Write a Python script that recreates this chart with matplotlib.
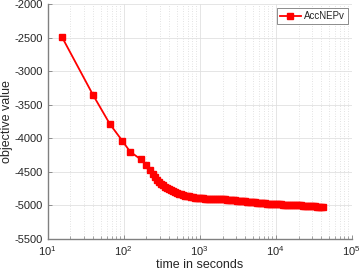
import numpy as np
import matplotlib
matplotlib.use('Agg')
import matplotlib.pyplot as plt
from matplotlib.ticker import LogLocator, NullFormatter

plt.rcParams['font.family'] = ['Liberation Sans', 'DejaVu Sans']

# time (s) and objective value
time_s = [15.5, 39.7, 66, 96, 122, 168, 197, 223, 244, 259, 275, 292, 311,
          330, 351, 373, 396, 421, 447, 475, 504, 536, 569, 605, 643, 683,
          725, 771, 819, 870, 924, 982, 1043, 1108, 1178, 1251, 1329, 1412,
          1500, 1594, 1694, 1799, 1911, 2031, 2158, 2292, 2436, 2588, 2749,
          2921, 3103, 3297, 3502, 3721, 3954, 4201, 4463, 4742, 5037, 5352,
          5686, 6041, 6418, 6819, 7244, 7698, 8176, 8689, 9228, 9806, 10416,
          11069, 11757, 12495, 13270, 14104, 14978, 15920, 16906, 17970,
          19082, 20285, 21538, 22898, 24310, 25847, 27440, 29176, 30970,
          32934, 34957, 37176, 39456, 41900]
objective = [-2491, -3355, -3787, -4036, -4200, -4313, -4398, -4472, -4538,
             -4580, -4618, -4650, -4678, -4702, -4723, -4742, -4760, -4776,
             -4790, -4802, -4812, -4823, -4834, -4846, -4857, -4862, -4867,
             -4873, -4879, -4884, -4889, -4892, -4895, -4897, -4898, -4899,
             -4900, -4900, -4901, -4902, -4903, -4904, -4906, -4909, -4912,
             -4915, -4918, -4921, -4924, -4927, -4930, -4933, -4936, -4939,
             -4942, -4945, -4948, -4951, -4954, -4957, -4959, -4962, -4965,
             -4968, -4970, -4972, -4974, -4977, -4979, -4981, -4983, -4984,
             -4985, -4987, -4988, -4990, -4991, -4993, -4994, -4996, -4997,
             -4999, -5000, -5002, -5004, -5007, -5009, -5011, -5013, -5016,
             -5018, -5020, -5022, -5023]

fig = plt.figure(figsize=(3.6, 2.74), dpi=100)
ax = fig.add_axes([0.132, 0.128, 0.845, 0.857])

ax.plot(time_s, objective, color='red', lw=1.3, marker='s', ms=3.7,
        mec='red', mfc='red', label='AccNEPv')

ax.set_xscale('log')
ax.set_xlim(10, 1e5)
ax.set_ylim(-5500, -2000)
ax.set_yticks(np.arange(-5500, -1999, 500))
ax.set_yticklabels([str(v) for v in range(-5500, -1999, 500)])
ax.xaxis.set_minor_locator(LogLocator(base=10, subs=np.arange(2, 10)))
ax.xaxis.set_minor_formatter(NullFormatter())

dark = '0.15'
for s in ['top', 'right']:
    ax.spines[s].set_visible(False)
for s in ['left', 'bottom']:
    ax.spines[s].set_color('0.5')
    ax.spines[s].set_linewidth(1.0)

ax.tick_params(which='major', direction='in', length=3, width=0.6,
               colors='0.5', labelcolor=dark, labelsize=8)
ax.tick_params(which='minor', direction='in', length=2, width=0.5, colors='0.5')

ax.grid(True, which='major', color='0.88', lw=0.6, ls='-')
ax.grid(True, which='minor', axis='x', color='0.85', lw=0.6, ls=(0, (1, 2)))
ax.set_axisbelow(True)

ax.set_xlabel('time in seconds', fontsize=9, color=dark, labelpad=1)
ax.set_ylabel('objective value', fontsize=9, color=dark, labelpad=1)

leg = ax.legend(loc='upper right', fontsize=7, frameon=True, fancybox=False,
                borderpad=0.3, handlelength=2.2, handletextpad=0.3,
                borderaxespad=0.4)
leg.get_frame().set_edgecolor('0.35')
leg.get_frame().set_linewidth(0.6)
for t in leg.get_texts():
    t.set_color(dark)

fig.savefig('out.png', dpi=100, facecolor='white')
